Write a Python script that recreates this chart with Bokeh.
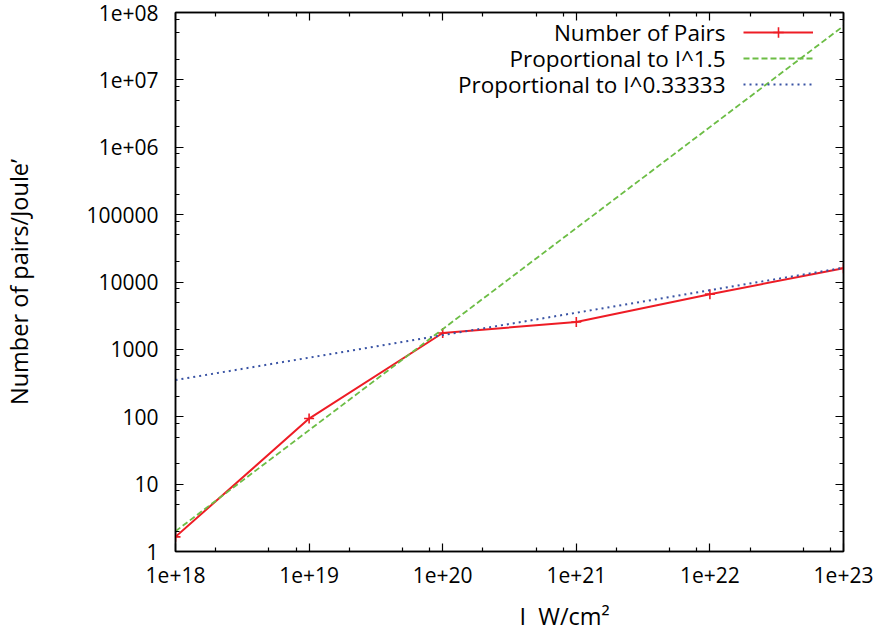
from bokeh.plotting import figure
from bokeh.models import Range1d, FixedTicker, LogAxis, Legend, LegendItem, Label, Title
from bokeh.embed import file_html
from bokeh.resources import INLINE

# Measured pair yield versus laser intensity
intensity = [1e18, 1e19, 1e20, 1e21, 1e22, 1e23]
pairs_per_joule = [1.65, 94, 1750, 2550, 6600, 16000]

# Power-law guide lines (end points over the plotted intensity range)
fit_x = [1e18, 1e23]
fit_pow_15 = [2.0, 6.3e7]
fit_pow_033 = [350, 16250]

# Axis ticks and their labels
x_ticks = [1e18, 1e19, 1e20, 1e21, 1e22, 1e23]
x_tick_labels = ["1e+18", "1e+19", "1e+20", "1e+21", "1e+22", "1e+23"]
y_ticks = [1, 10, 100, 1000, 10000, 100000, 1e6, 1e7, 1e8]
y_tick_labels = ["1", "10", "100", "1000", "10000", "100000", "1e+06", "1e+07", "1e+08"]

series_names = ["Number of Pairs", "Proportional to I^1.5", "Proportional to I^0.33333"]

FONT = "Open Sans"
RED = "#ee1c25"
GREEN = "#6cbd45"
BLUE = "#3953a4"

x_minor = [m * 10.0 ** k for k in range(17, 23) for m in (2, 5, 8)]
y_minor = [m * 10.0 ** k for k in range(0, 8) for m in (2, 5, 8)]

p = figure(
    width=882, height=631,
    x_axis_type="log", y_axis_type="log",
    x_range=Range1d(1e18, 1e23), y_range=Range1d(1, 1e8),
    output_backend="svg", toolbar_location=None,
    min_border_left=174, min_border_right=39,
    min_border_top=12, min_border_bottom=80,
    background_fill_color="white", border_fill_color="white",
)
p.xgrid.visible = False
p.ygrid.visible = False
p.outline_line_color = "black"
p.outline_line_width = 1.5

x_ticker = FixedTicker(ticks=x_ticks, minor_ticks=x_minor)
y_ticker = FixedTicker(ticks=y_ticks, minor_ticks=y_minor)


def style_axis(ax, ticker, show_labels):
    ax.ticker = ticker
    ax.axis_line_color = "black"
    ax.axis_line_width = 1.5
    ax.major_tick_in = 8
    ax.major_tick_out = 0
    ax.minor_tick_in = 4
    ax.minor_tick_out = 0
    ax.major_tick_line_width = 1.2
    ax.minor_tick_line_width = 1.2
    if show_labels:
        ax.major_label_text_font = FONT
        ax.major_label_text_font_size = "21px"
        ax.major_label_text_color = "black"
    else:
        ax.major_label_text_font_size = "1px"
        ax.major_label_text_alpha = 0
        ax.major_label_standoff = 0


xa = p.xaxis[0]
ya = p.yaxis[0]
style_axis(xa, x_ticker, True)
style_axis(ya, y_ticker, True)
xa.major_label_overrides = {t: s for t, s in zip(x_ticks, x_tick_labels)}
ya.major_label_overrides = {float(t): s for t, s in zip(y_ticks, y_tick_labels)}
xa.major_label_standoff = 15
ya.major_label_standoff = 17

# spacer between the tick labels and the x title below them
xa.axis_label = "\u00a0"
xa.axis_label_text_font_size = "1px"
xa.axis_label_standoff = 8

ya.axis_label = "Number of pairs/Joule\u2019"
ya.axis_label_text_font = FONT
ya.axis_label_text_font_size = "23.5px"
ya.axis_label_text_font_style = "normal"
ya.axis_label_text_color = "black"
ya.axis_label_standoff = 48

top_ax = LogAxis()
right_ax = LogAxis()
style_axis(top_ax, x_ticker, False)
style_axis(right_ax, y_ticker, False)
p.add_layout(top_ax, "above")
p.add_layout(right_ax, "right")

# Data and guide lines
r_line = p.line(intensity, pairs_per_joule, line_color=RED, line_width=2)
r_pts = p.scatter(intensity, pairs_per_joule, marker="cross", size=10,
                  line_color=RED, line_width=1.6)
g_line = p.line(fit_x, fit_pow_15, line_color=GREEN, line_width=1.8,
                line_dash="6 3")
b_line = p.line(fit_x, fit_pow_033, line_color=BLUE, line_width=2,
                line_dash="2 4")

# Key: line samples from the legend, names right-aligned to their left
legend = Legend(
    items=[
        LegendItem(label=series_names[0], renderers=[r_line, r_pts]),
        LegendItem(label=series_names[1], renderers=[g_line]),
        LegendItem(label=series_names[2], renderers=[b_line]),
    ],
    location=(568, 454),
    glyph_width=70, glyph_height=26,
    label_height=26, label_width=1,
    label_text_font_size="1px", label_text_alpha=0,
    label_standoff=0, spacing=0, padding=0, margin=0,
    border_line_color=None, background_fill_alpha=0,
)
p.add_layout(legend, "center")

for i, name in enumerate(series_names):
    p.add_layout(Label(
        x=550, y=519 - 26 * i, x_units="screen", y_units="screen",
        text=name, text_align="right", text_baseline="middle",
        text_font=FONT, text_font_size="22.5px", text_color="black",
    ))

# x-axis title, set a little right of centre
p.add_layout(Title(
    text="I\u00a0\u00a0W/cm\u00b2", align="left", offset=344,
    text_font=FONT, text_font_size="23.5px", text_font_style="normal",
    text_color="black", standoff=0,
), "below")

open("out.html", "w").write(file_html(p, INLINE))
